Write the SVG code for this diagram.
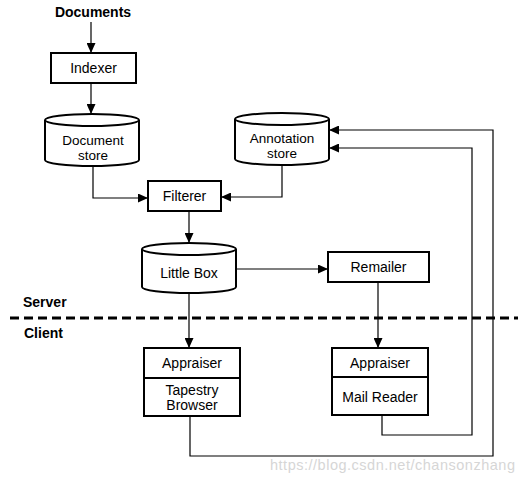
<svg xmlns="http://www.w3.org/2000/svg" width="528" height="484" viewBox="0 0 528 484">
<defs>
<marker id="ah" markerWidth="10" markerHeight="9" refX="10" refY="4.5" orient="auto" markerUnits="userSpaceOnUse">
<path d="M0,0 L10,4.5 L0,9 Z" fill="#000"/>
</marker>
</defs>
<style>
.box{fill:#fff;stroke:#000;stroke-width:2}
.cyl{fill:#fff;stroke:#000;stroke-width:2}
.t{font-family:"Liberation Sans",Arial,sans-serif;font-size:14px;fill:#000;text-anchor:middle}
.s{font-size:13.5px}
.b{font-family:"Liberation Sans",Arial,sans-serif;font-size:14px;font-weight:bold;fill:#000}
.c{fill:none;stroke:#000;stroke-width:1.2}
.a{marker-end:url(#ah)}
</style>
<rect width="528" height="484" fill="#fff"/>
<g id="connectors">
<path class="c a" d="M91,22 V53"/>
<path class="c a" d="M91,83 V114"/>
<path class="c a" d="M93,166 V198 H148"/>
<path class="c a" d="M282,165 V197 H221"/>
<path class="c a" d="M189,211 V243"/>
<path class="c a" d="M236,269 H328"/>
<path class="c a" d="M189,293 V348"/>
<path class="c a" d="M378,282 V348"/>
<path class="c a" d="M382,415 V435 H472 V148 H329"/>
<path class="c a" d="M190,416 V456 H493 V130 H329"/>
<path d="M10,318 H518" fill="none" stroke="#000" stroke-width="3" stroke-dasharray="9,5"/>
</g>
<g id="documents"><text class="b" x="93" y="17" text-anchor="middle" font-size="13">Documents</text></g>
<g id="indexer">
<rect class="box" x="51" y="53" width="85" height="30"/>
<text class="t" x="93.5" y="73">Indexer</text>
</g>
<g id="document-store">
<path class="cyl" d="M45,120 A47,6 0 0 1 139,120 V160 A47,6 0 0 1 45,160 Z"/>
<path class="cyl" d="M45,120 A47,6 0 0 0 139,120" fill="none"/>
<text class="t s" x="93" y="145">Document</text>
<text class="t s" x="93" y="160">store</text>
</g>
<g id="annotation-store">
<path class="cyl" d="M235,119 A47,6 0 0 1 329,119 V159 A47,6 0 0 1 235,159 Z"/>
<path class="cyl" d="M235,119 A47,6 0 0 0 329,119" fill="none"/>
<text class="t s" x="282" y="143">Annotation</text>
<text class="t s" x="282" y="158">store</text>
</g>
<g id="filterer">
<rect class="box" x="148" y="181" width="73" height="30"/>
<text class="t" x="184.5" y="201">Filterer</text>
</g>
<g id="little-box">
<path class="cyl" d="M142,249 A47,6 0 0 1 236,249 V287 A47,6 0 0 1 142,287 Z"/>
<path class="cyl" d="M142,249 A47,6 0 0 0 236,249" fill="none"/>
<text class="t" x="189" y="278">Little Box</text>
</g>
<g id="remailer">
<rect class="box" x="328" y="252" width="101" height="30"/>
<text class="t" x="378.5" y="272">Remailer</text>
</g>
<g id="labels">
<text class="b" x="23" y="307">Server</text>
<text class="b" x="24" y="338">Client</text>
</g>
<g id="tapestry-browser">
<rect class="box" x="144" y="348" width="96" height="68"/>
<line x1="144" y1="378" x2="240" y2="378" stroke="#000" stroke-width="2"/>
<text class="t" x="192" y="368">Appraiser</text>
<text class="t" x="192" y="395">Tapestry</text>
<text class="t" x="192" y="410">Browser</text>
</g>
<g id="mail-reader">
<rect class="box" x="332" y="348" width="96" height="67"/>
<line x1="332" y1="377" x2="428" y2="377" stroke="#000" stroke-width="2"/>
<text class="t" x="380" y="368">Appraiser</text>
<text class="t" x="380" y="402">Mail Reader</text>
</g>
<text x="270" y="470" font-family="'Liberation Sans',Arial,sans-serif" font-size="14.5" fill="#d6d6d6" textLength="245">https://blog.csdn.net/chansonzhang</text>
</svg>
